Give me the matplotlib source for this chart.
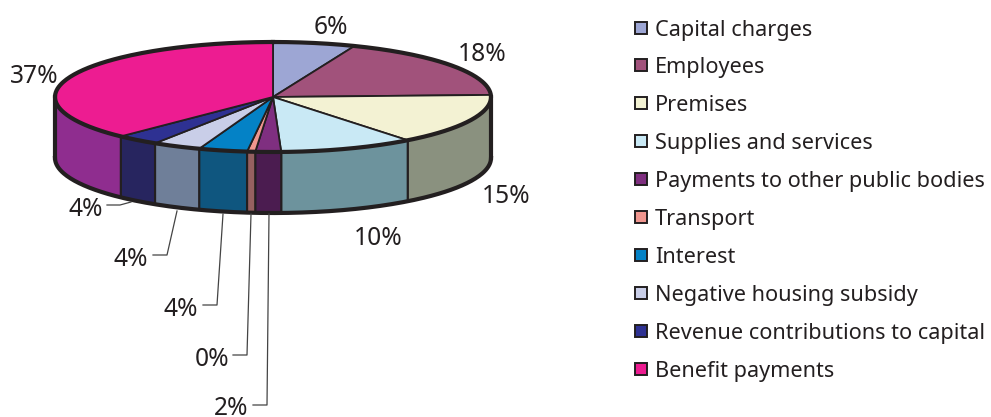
import matplotlib
matplotlib.use('Agg')
import matplotlib.pyplot as plt
import numpy as np

plt.rcParams['font.family'] = ['Noto Sans', 'DejaVu Sans']

# data
categories = ['Capital charges', 'Employees', 'Premises', 'Supplies and services',
              'Payments to other public bodies', 'Transport', 'Interest',
              'Negative housing subsidy', 'Revenue contributions to capital', 'Benefit payments']
values = [6.1, 18.3, 15.0, 10.0, 1.9, 0.6, 3.6, 3.6, 3.2, 37.7]
labels = ['6%', '18%', '15%', '10%', '2%', '0%', '4%', '4%', '4%', '37%']
top_colors = ['#9DA6D4', '#A1527B', '#F3F2D3', '#C9E9F5', '#7F2F80',
              '#F0968F', '#0482C6', '#C9CEE8', '#2E3192', '#ED1C91']
side_colors = ['#7A80A5', '#7D4060', '#8A917F', '#6D939D', '#4B1C50',
               '#966060', '#0F567F', '#6F7F99', '#27255F', '#8F2D8F']

# label x centre and baseline in pixels
label_pos = [(331, 34), (482, 61), (506, 203), (378, 245), (231, 415),
             (212, 366), (181, 316), (131, 266), (86, 216), (34, 83)]
# leader lines
leaders = {4: [(253, 405), (267, 405), (269, 214)],
           5: [(233, 355), (247, 355), (251, 214)],
           6: [(203, 305), (217, 305), (223, 214)],
           7: [(153, 255), (167, 255), (177, 211)],
           8: [(107, 205), (120, 205), (131, 202)]}

dark = '#231F20'
cx, cy, a, b, depth = 273, 97, 218, 55, 61


def rim(t, dy=0):
    t = np.radians(t)
    return np.column_stack([cx + a * np.sin(t), cy - b * np.cos(t) + dy])


fig = plt.figure(figsize=(9.91, 4.17), dpi=100)
ax = fig.add_axes([0, 0, 1, 1])
ax.set_xlim(0, 991)
ax.set_ylim(417, 0)
ax.axis('off')

edges = np.concatenate([[0], np.cumsum(values)]) / sum(values) * 360

# sides, only the front half shows
for i in range(len(values)):
    t0, t1 = max(edges[i], 90), min(edges[i + 1], 270)
    if t1 <= t0:
        continue
    tt = np.linspace(t0, t1, 60)
    pts = np.vstack([rim(tt), rim(tt[::-1], depth)])
    ax.fill(pts[:, 0], pts[:, 1], facecolor=side_colors[i], edgecolor=dark, lw=1.5, joinstyle='miter')

# top wedges
for i in range(len(values)):
    tt = np.linspace(edges[i], edges[i + 1], 80)
    pts = np.vstack([[(cx, cy)], rim(tt)])
    ax.fill(pts[:, 0], pts[:, 1], facecolor=top_colors[i], edgecolor=dark, lw=1.3, joinstyle='miter')

# thick outline
tt = np.linspace(0, 360, 400)
p = rim(tt)
ax.plot(p[:, 0], p[:, 1], color=dark, lw=3)
tt = np.linspace(90, 270, 200)
p = rim(tt, depth)
ax.plot(p[:, 0], p[:, 1], color=dark, lw=3)
for t in (90, 270):
    p = np.vstack([rim([t]), rim([t], depth)])
    ax.plot(p[:, 0], p[:, 1], color=dark, lw=3)

for i, s in enumerate(labels):
    ax.text(label_pos[i][0], label_pos[i][1], s, fontsize=17.7, color=dark, ha='center', va='baseline')
for i in leaders:
    p = np.array(leaders[i])
    ax.plot(p[:, 0], p[:, 1], color='#444444', lw=0.9)

# legend
for i, c in enumerate(categories):
    y = 35.5 + i * 37.9
    ax.add_patch(plt.Rectangle((635, y - 14), 12, 12, facecolor=top_colors[i], edgecolor=dark, lw=1.4))
    ax.text(655, y, c, fontsize=15.6, color=dark, ha='left', va='baseline')

fig.savefig('out.png', dpi=100)
